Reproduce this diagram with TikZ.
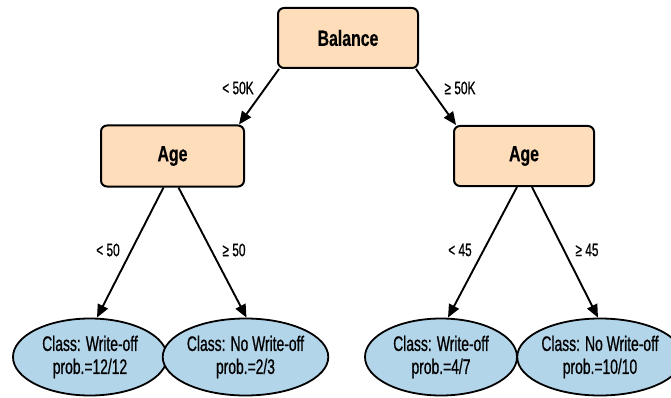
\documentclass[tikz,border=0pt]{standalone}
\usepackage{fontspec}
\setmainfont[UprightFeatures={FakeStretch=0.66,FakeBold=0.7},BoldFeatures={FakeStretch=0.72,FakeBold=0.4}]{Liberation Sans}
\usetikzlibrary{arrows.meta,shapes.geometric}
\definecolor{peach}{HTML}{FDDDBA}
\definecolor{skyleaf}{HTML}{B3D5EA}
\begin{document}
\begin{tikzpicture}[x=1pt,y=-1pt,
  split/.style={draw=black,line width=2pt,fill=peach,rounded corners=6pt,
    minimum width=140pt,minimum height=60pt,font=\fontsize{22}{24}\selectfont\bfseries},
  leaf/.style={draw=black,line width=1.8pt,fill=skyleaf,ellipse,inner sep=0pt,
    minimum height=77pt,align=center,font=\fontsize{21}{23}\selectfont},
  edge/.style={line width=1.9pt,-{Triangle[length=13pt,width=11pt]}},
  cond/.style={font=\fontsize{18}{20}\selectfont}]
\useasboundingbox (0,0) rectangle (671,398);

\node[split] (bal) at (348,38) {Balance};
\node[split,minimum width=143pt,minimum height=61pt] (ageL) at (172.5,156) {Age};
\node[split] (ageR) at (524,156) {Age};

\node[leaf,minimum width=154pt] (wo1) at (90,357) {Class: Write-off\\prob.=12/12};
\node[leaf,minimum width=145pt] (nwo1) at (245.5,357) {Class: No Write-off\\prob.=2/3};
\node[leaf,minimum width=152pt] (wo2) at (441,357) {Class: Write-off\\prob.=4/7};
\node[leaf,minimum width=136pt] (nwo2) at (600,357) {Class: No Write-off\\prob.=10/10};

\draw[edge] ([xshift=2pt]bal.south west) -- ([xshift=-6pt]ageL.north east);
\draw[edge] ([xshift=-3pt]bal.south east) -- ([xshift=3pt]ageR.north west);

\draw[edge] ([xshift=-9pt]ageL.south) -- ([xshift=7pt]wo1.north);
\draw[edge] ([xshift=6pt]ageL.south) -- ([xshift=1pt]nwo1.north);
\draw[edge] ([xshift=-7pt]ageR.south) -- ([xshift=7pt]wo2.north);
\draw[edge] ([xshift=8pt]ageR.south) -- ([xshift=-2pt]nwo2.north);

\node[cond] (lt50k) at (238,88) {< 50K};
\node[cond] (ge50k) at (460,88) {≥ 50K};
\node[cond] (lt50) at (108,250) {< 50};
\node[cond] (ge50) at (234,250) {≥ 50};
\node[cond] (lt45) at (460,250) {< 45};
\node[cond] (ge45) at (587,250) {≥ 45};

\end{tikzpicture}
\end{document}
